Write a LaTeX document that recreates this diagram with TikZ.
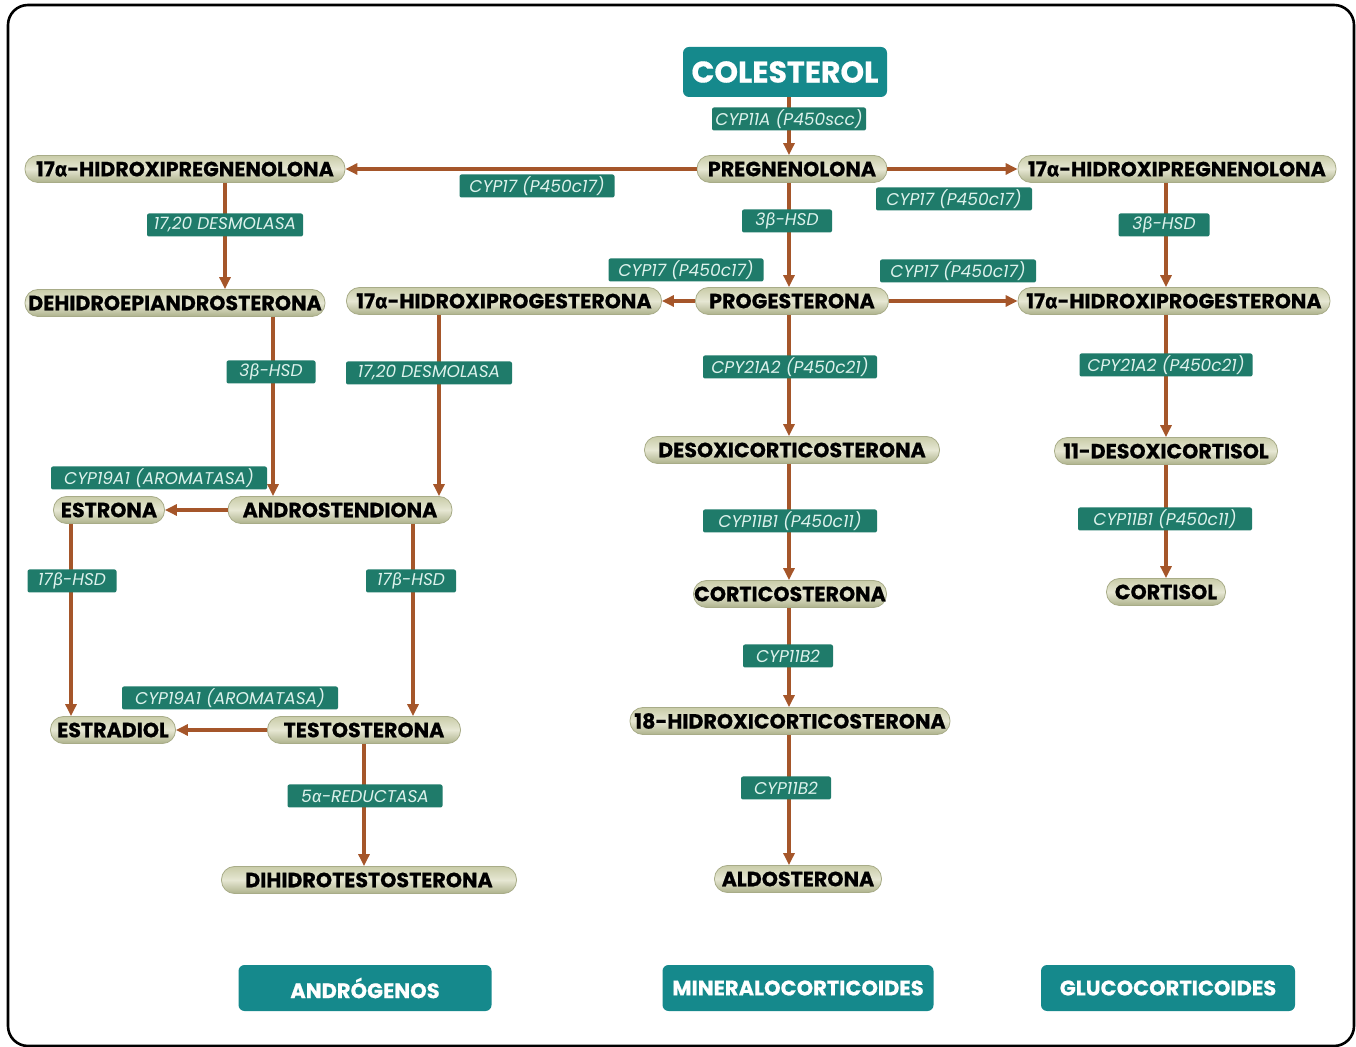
\documentclass[tikz,border=0pt]{standalone}
\usepackage{fontspec}
\setmainfont{Poppins}[BoldFeatures={FakeBold=0.6}]
\newfontfamily\gkfont{Fira Sans}[BoldFeatures={FakeBold=0.6}]
\usetikzlibrary{arrows.meta}
\definecolor{tealbox}{HTML}{15898C}
\definecolor{enzG}{HTML}{1F7B6A}
\definecolor{enzT}{HTML}{DDF2EC}
\definecolor{brownA}{HTML}{A5562A}
\definecolor{pillTop}{HTML}{C9CCA8}
\definecolor{pillMid}{HTML}{E6E7D3}
\definecolor{pillBot}{HTML}{AEB28C}
\definecolor{pillEdge}{HTML}{A8AC88}
\newcommand\alp{{\gkfont α}}
\newcommand\bet{{\gkfont β}}
\tikzset{
  pill/.style={rounded corners=6.5pt, minimum height=13.5pt, inner sep=0pt,
    top color=pillTop, bottom color=pillBot, middle color=pillMid, draw=pillEdge, line width=0.4pt,
    font=\bfseries\fontsize{10.3}{12}\selectfont, text=black},
  enz/.style={fill=enzG, text=enzT, inner sep=0pt, minimum height=11.5pt, rounded corners=1pt,
    font=\itshape\fontsize{8.5}{9}\selectfont},
  tbox/.style={fill=tealbox, text=white, inner sep=0pt, rounded corners=3pt,
    font=\bfseries\fontsize{10.5}{12}\selectfont},
  arr/.style={draw=brownA, line width=1.75pt, -{Triangle[length=6pt,width=5.5pt]}},
}
\begin{document}
\begin{tikzpicture}[x=0.5pt,y=-0.5pt]
\useasboundingbox (0,0) rectangle (1356,1047);
\draw[line width=1.3pt, rounded corners=10pt] (8,5) rectangle (1354,1046);

% main nodes
\node[tbox, minimum width=102pt, minimum height=25pt, font=\bfseries\fontsize{15}{17}\selectfont] (col) at (785,72) {COLESTEROL};
\node[pill, minimum width=95pt] (preg) at (792,169) {PREGNENOLONA};
\node[pill, minimum width=160pt] (hpregL) at (185,169) {17\alp-HIDROXIPREGNENOLONA};
\node[pill, minimum width=159pt] (hpregR) at (1177,169) {17\alp-HIDROXIPREGNENOLONA};
\node[pill, minimum width=150pt] (dhea) at (175,303) {DEHIDROEPIANDROSTERONA};
\node[pill, minimum width=157.5pt] (hprogL) at (504,301) {17\alp-HIDROXIPROGESTERONA};
\node[pill, minimum width=96.5pt] (prog) at (792,301) {PROGESTERONA};
\node[pill, minimum width=156pt] (hprogR) at (1174,301) {17\alp-HIDROXIPROGESTERONA};
\node[pill, minimum width=147.5pt] (doc) at (792,450) {DESOXICORTICOSTERONA};
\node[pill, minimum width=111.5pt] (deso) at (1166,451) {11-DESOXICORTISOL};
\node[pill, minimum width=112pt] (andro) at (340,510) {ANDROSTENDIONA};
\node[pill, minimum width=55.5pt] (estrona) at (109,510) {ESTRONA};
\node[pill, minimum width=96.5pt] (cortico) at (790,594) {CORTICOSTERONA};
\node[pill, minimum width=59.5pt] (cortisol) at (1166,592) {CORTISOL};
\node[pill, minimum width=62.5pt] (estradiol) at (113,730) {ESTRADIOL};
\node[pill, minimum width=96.5pt] (testo) at (364,730) {TESTOSTERONA};
\node[pill, minimum width=160pt] (hcort) at (790,721) {18-HIDROXICORTICOSTERONA};
\node[pill, minimum width=147.5pt] (dht) at (369,880) {DIHIDROTESTOSTERONA};
\node[pill, minimum width=83.5pt] (aldo) at (798,879) {ALDOSTERONA};

% bottom category boxes
\node[tbox, minimum width=126.5pt, minimum height=23pt] (catA) at (365,988) {ANDRÓGENOS};
\node[tbox, minimum width=135.5pt, minimum height=23pt] (catM) at (798,988) {MINERALOCORTICOIDES};
\node[tbox, minimum width=127pt, minimum height=23pt] (catG) at (1168,988) {GLUCOCORTICOIDES};

% helper coordinates
\coordinate (c1) at ([xshift=2pt]col.south);
\coordinate (c2) at ([xshift=20pt]hpregL.south);
\coordinate (c3) at ([xshift=-5.5pt]hpregR.south);
\coordinate (c4) at ([xshift=49pt]dhea.south);
\coordinate (c5) at ([xshift=-32.5pt]hprogL.south);
\coordinate (c6) at ([xshift=-19pt]estrona.south);
\coordinate (c7) at ([xshift=36.5pt]andro.south);
\coordinate (c8) at ([xshift=-1.5pt]prog.south);
\coordinate (c9) at ([xshift=-1.5pt]doc.south);
\coordinate (c10) at ([xshift=-0.5pt]cortico.south);
\coordinate (c11) at ([xshift=-0.5pt]hcort.south);
\coordinate (c12) at ([xshift=-1.5pt]preg.south);
\coordinate (c13) at (deso.north |- hprogR.south);
\coordinate (c14) at (deso.south);

% connectors
\draw[arr] (c1) -- (c1 |- preg.north);
\draw[arr] (preg.west) -- (hpregL.east);
\draw[arr] (preg.east) -- (hpregR.west);
\draw[arr] (c2) -- (c2 |- dhea.north);
\draw[arr] (c12) -- (c12 |- prog.north);
\draw[arr] (c3) -- (c3 |- hprogR.north);
\draw[arr] (prog.west) -- (hprogL.east);
\draw[arr] (prog.east) -- (hprogR.west);
\draw[arr] (c8) -- (c8 |- doc.north);
\draw[arr] (c9) -- (c9 |- cortico.north);
\draw[arr] (c10) -- (c10 |- hcort.north);
\draw[arr] (c11) -- (c11 |- aldo.north);
\draw[arr] (c13) -- (deso.north);
\draw[arr] (c14) -- (c14 |- cortisol.north);
\draw[arr] (c4) -- (c4 |- andro.north);
\draw[arr] (c5) -- (c5 |- andro.north);
\draw[arr] (andro.west) -- (estrona.east);
\draw[arr] (c6) -- (c6 |- estradiol.north);
\draw[arr] (c7) -- (c7 |- testo.north);
\draw[arr] (testo.west) -- (estradiol.east);
\draw[arr] (testo.south) -- (testo.south |- dht.north);

% enzyme labels
\node[enz, minimum width=77pt] (e1) at (789,119) {CYP11A (P450scc)};
\node[enz, minimum width=77.5pt] (e2) at (537,186) {CYP17 (P450c17)};
\node[enz, minimum width=78pt] (e3) at (954,199) {CYP17 (P450c17)};
\node[enz, minimum width=78pt] (e4) at (225,225) {17,20 DESMOLASA};
\node[enz, minimum width=45pt] (e5) at (787,221) {3\bet-HSD};
\node[enz, minimum width=45.5pt] (e6) at (1164,225) {3\bet-HSD};
\node[enz, minimum width=77.5pt] (e7) at (686,270) {CYP17 (P450c17)};
\node[enz, minimum width=78pt] (e8) at (958,271) {CYP17 (P450c17)};
\node[enz, minimum width=44.5pt] (e9) at (271,372) {3\bet-HSD};
\node[enz, minimum width=83pt] (e10) at (429,373) {17,20 DESMOLASA};
\node[enz, minimum width=87pt] (e11) at (790,367) {CPY21A2 (P450c21)};
\node[enz, minimum width=86.5pt] (e12) at (1166,365) {CPY21A2 (P450c21)};
\node[enz, minimum width=108pt] (e13) at (159,478) {CYP19A1 (AROMATASA)};
\node[enz, minimum width=44.5pt] (e14) at (72,581) {17\bet-HSD};
\node[enz, minimum width=45pt] (e15) at (411,581) {17\bet-HSD};
\node[enz, minimum width=87pt] (e16) at (790,521) {CYP11B1 (P450c11)};
\node[enz, minimum width=87pt] (e17) at (1165,519) {CYP11B1 (P450c11)};
\node[enz, minimum width=45pt] (e18) at (788,656) {CYP11B2};
\node[enz, minimum width=108pt] (e19) at (230,698) {CYP19A1 (AROMATASA)};
\node[enz, minimum width=77.5pt] (e20) at (365,796) {5\alp-REDUCTASA};
\node[enz, minimum width=45pt] (e21) at (786,788) {CYP11B2};
\end{tikzpicture}
\end{document}
